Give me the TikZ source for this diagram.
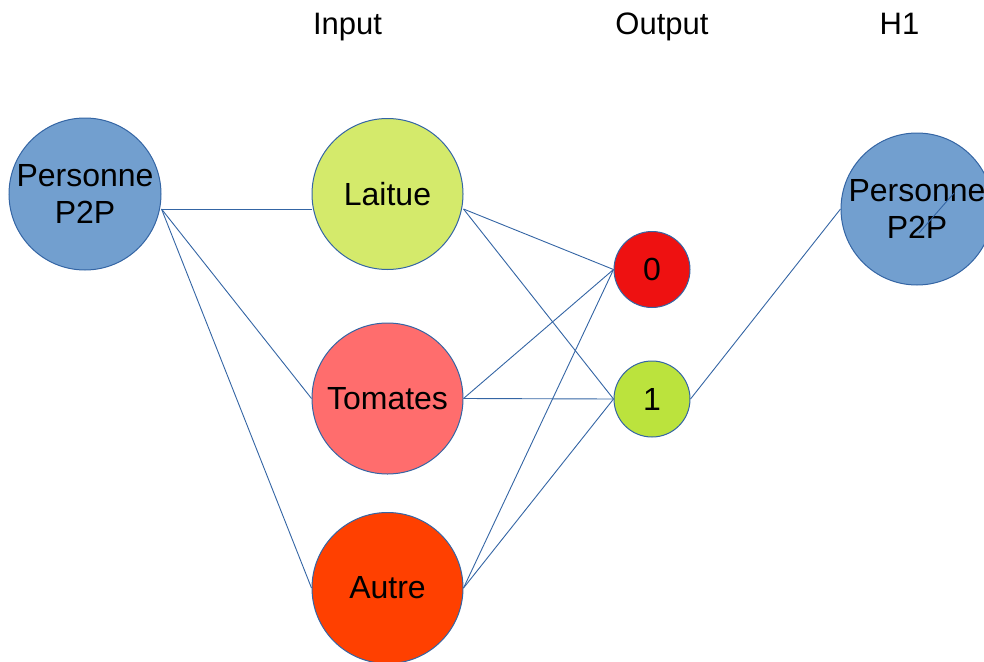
\documentclass[tikz,border=0pt]{standalone}
\usepackage{fontspec}
\setmainfont{Liberation Sans}
\definecolor{pblue}{HTML}{729FCF}
\definecolor{lblue}{HTML}{3465A4}
\definecolor{lime}{HTML}{D4EA6B}
\definecolor{tomato}{HTML}{FF6D6D}
\definecolor{brick}{HTML}{FF4000}
\definecolor{zred}{HTML}{EE1111}
\definecolor{olime}{HTML}{BBE33D}
\tikzset{
  bignode/.style={circle, draw=lblue, line width=1pt, minimum size=151pt, inner sep=0pt, align=center,
    font=\fontsize{32}{37}\selectfont},
  smallnode/.style={circle, draw=lblue, line width=1pt, minimum size=76pt, inner sep=0pt,
    font=\fontsize{32}{37}\selectfont},
  title/.style={font=\fontsize{31}{37}\selectfont, inner sep=0pt, anchor=base},
  link/.style={draw=lblue, line width=0.9pt}
}
\begin{document}
\begin{tikzpicture}[x=1pt,y=-1pt]
\useasboundingbox (0,0) rectangle (984,661);
\node[title] (tin) at (347.5,35) {Input};
\node[title] (tout) at (662,35) {Output};
\node[title] (th) at (899.5,35) {H1};
\node[bignode, fill=pblue, minimum size=152pt] (pl) at (85,194) {Personne\\P2P};
\node[bignode, fill=lime] (laitue) at (387.5,194) {Laitue};
\node[bignode, fill=tomato] (tomates) at (387.5,398.5) {Tomates};
\node[bignode, fill=brick] (autre) at (387.5,588) {Autre};
\node[smallnode, fill=zred] (zero) at (652,269.5) {0};
\node[smallnode, fill=olime] (one) at (652,399) {1};
\node[bignode, fill=pblue, minimum size=152pt] (pr) at (917,209) {Personne\\P2P};
\coordinate (ia) at (919,233);
\coordinate (ib) at (954,193);
\draw[link] ([yshift=-15pt]pl.east) -- ([yshift=-15pt]laitue.west);
\draw[link] ([yshift=-15pt]pl.east) -- (tomates.west);
\draw[link] ([yshift=-15pt]pl.east) -- (autre.west);
\draw[link] ([yshift=-15pt]laitue.east) -- (zero.west);
\draw[link] ([yshift=-15pt]laitue.east) -- (one.west);
\draw[link] (tomates.east) -- (zero.west);
\draw[link] (tomates.east) -- (one.west);
\draw[link] (autre.east) -- (zero.west);
\draw[link] (autre.east) -- (one.west);
\draw[link] (one.east) -- (pr.west);
\draw[link] (ia) -- (ib);
\end{tikzpicture}
\end{document}
